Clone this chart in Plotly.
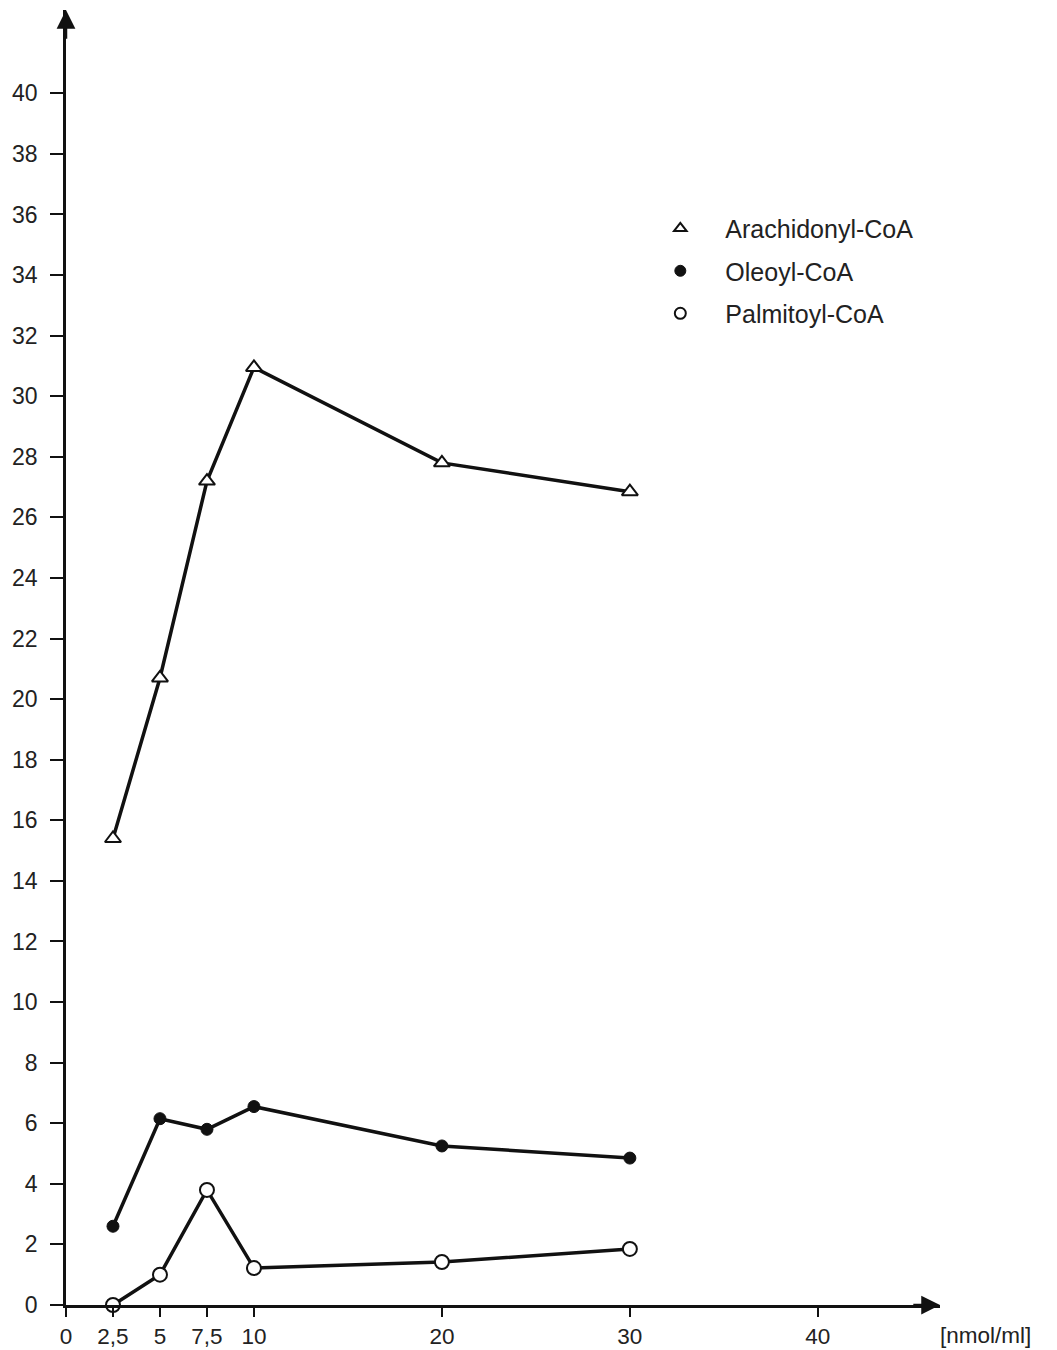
import plotly.graph_objects as go

conc = [2.5, 5, 7.5, 10, 20, 30]
arachidonyl = [15.4, 20.7, 27.2, 30.95, 27.8, 26.85]
oleoyl = [2.6, 6.15, 5.8, 6.55, 5.25, 4.85]
palmitoyl = [0.0, 1.0, 3.8, 1.22, 1.42, 1.85]

x_tickvals = [0, 2.5, 5, 7.5, 10, 20, 30, 40]
x_ticktext = ["0", "2,5", "5", "7,5", "10", "20", "30", "40"]
y_tickvals = list(range(0, 41, 2))
x_unit = "[nmol/ml]"

FONT = "Liberation Sans, Arial, Helvetica, sans-serif"
BLACK = "#111111"
TXT = "#222222"

series = [
    ("Arachidonyl-CoA", arachidonyl, dict(symbol="triangle-up", size=14, color="white", line=dict(color=BLACK, width=2)),
     dict(symbol="triangle-up", size=11, color="white", line=dict(color=BLACK, width=2))),
    ("Oleoyl-CoA", oleoyl, dict(symbol="circle", size=12, color=BLACK, line=dict(color=BLACK, width=1)),
     dict(symbol="circle", size=11, color=BLACK, line=dict(color=BLACK, width=1))),
    ("Palmitoyl-CoA", palmitoyl, dict(symbol="circle", size=14, color="white", line=dict(color=BLACK, width=2)),
     dict(symbol="circle", size=11, color="white", line=dict(color=BLACK, width=2))),
]

fig = go.Figure()
for name, vals, mk, lmk in series:
    fig.add_trace(go.Scatter(x=conc, y=vals, mode="lines+markers", name=name,
                             line=dict(color=BLACK, width=3.5), marker=mk,
                             showlegend=False, cliponaxis=False))
for name, vals, mk, lmk in series:
    fig.add_trace(go.Scatter(x=[None], y=[None], mode="markers", name=name,
                             marker=lmk, legendgroup=name, showlegend=True))

xmax = 46.5
ymax = 42.75

fig.update_layout(
    width=1057, height=1350,
    margin=dict(l=66, r=117, t=10, b=45),
    paper_bgcolor="white", plot_bgcolor="white",
    font=dict(family=FONT, size=22, color=TXT),
    xaxis=dict(range=[0, xmax], tickvals=x_tickvals, ticktext=x_ticktext, automargin=False,
               showgrid=False, zeroline=False, showline=True, linecolor=BLACK, linewidth=2.5,
               ticks="outside", ticklen=9, tickwidth=2, tickcolor=BLACK, ticklabelstandoff=0,
               tickfont=dict(family=FONT, size=22.5, color=TXT)),
    yaxis=dict(range=[0, ymax], tickvals=y_tickvals, automargin=False,
               showgrid=False, zeroline=False, showline=True, linecolor=BLACK, linewidth=2.5,
               ticks="outside", ticklen=13, tickwidth=2, tickcolor=BLACK, ticklabelstandoff=8,
               tickfont=dict(family=FONT, size=23, color=TXT)),
    legend=dict(x=0.6514, y=0.849, xanchor="left", yanchor="top",
                font=dict(family=FONT, size=25, color=TXT),
                tracegroupgap=7, bgcolor="rgba(0,0,0,0)", itemwidth=80),
    showlegend=True,
)

# arrowheads
fig.add_annotation(x=xmax, y=0, ax=xmax - 1.5, ay=0, xref="x", yref="y", axref="x", ayref="y",
                   showarrow=True, arrowhead=2, arrowsize=1.5, arrowwidth=2.5, arrowcolor=BLACK, text="")
fig.add_annotation(x=0, y=ymax, ax=0, ay=ymax - 1.0, xref="x", yref="y", axref="x", ayref="y",
                   showarrow=True, arrowhead=2, arrowsize=1.5, arrowwidth=2.5, arrowcolor=BLACK, text="")
fig.add_annotation(x=1, y=0, xref="paper", yref="paper", xanchor="left", yanchor="top",
                   xshift=-2, yshift=-16, text=x_unit, showarrow=False,
                   font=dict(family=FONT, size=22.5, color=TXT))

fig.write_html("out.html")
